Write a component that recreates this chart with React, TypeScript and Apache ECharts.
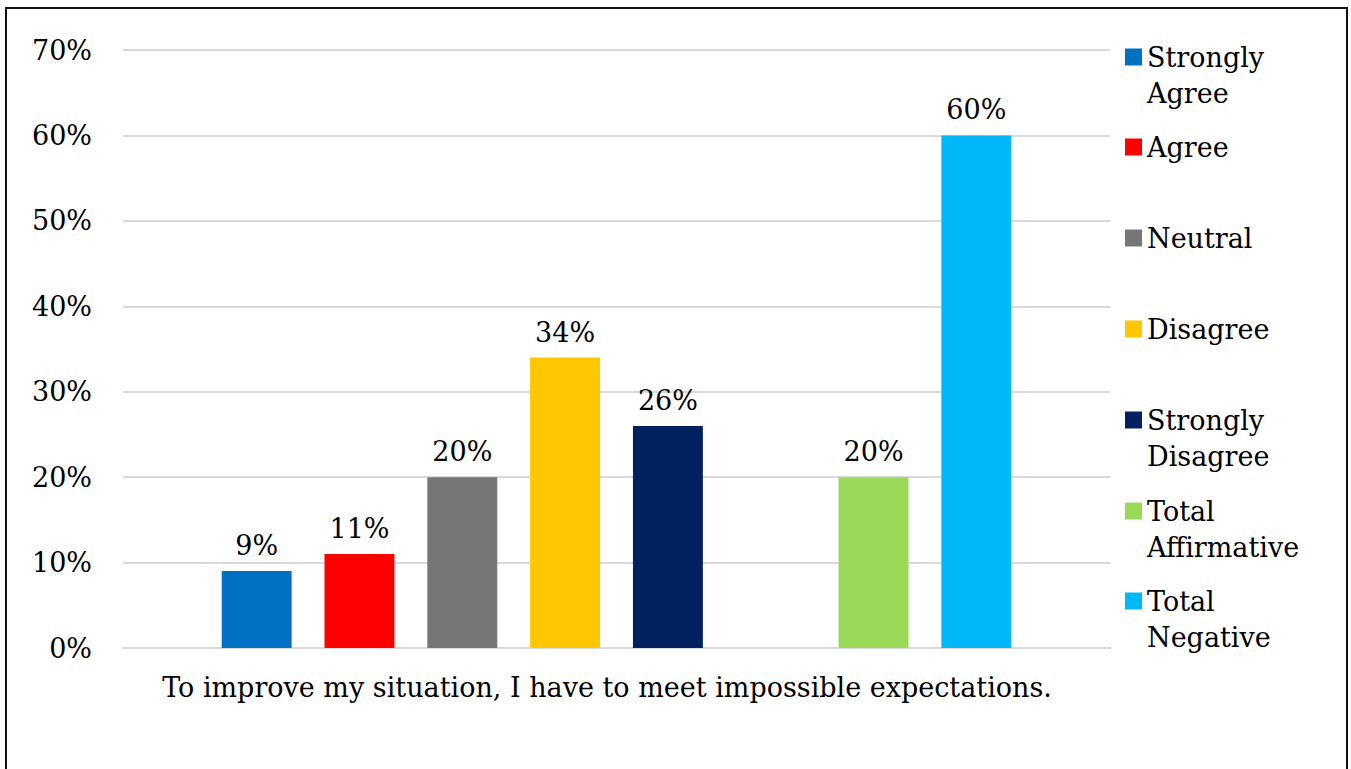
import React, { useEffect, useRef } from "react";
import * as echarts from "echarts";

const category = ["To improve my situation, I have to meet impossible expectations."];
const seriesNames = [
  "Strongly Agree",
  "Agree",
  "Neutral",
  "Disagree",
  "Strongly Disagree",
  "",
  "Total Affirmative",
  "Total Negative",
];
const legendLabels = [
  "Strongly\nAgree",
  "Agree",
  "Neutral",
  "Disagree",
  "Strongly\nDisagree",
  "",
  "Total\nAffirmative",
  "Total\nNegative",
];
const values: (number | null)[] = [9, 11, 20, 34, 26, null, 20, 60];
const colors = ["#0070C0", "#FF0000", "#767676", "#FFC700", "#002060", "#FFFFFF", "#9BDA59", "#00B8F8"];
const yTicks = [0, 10, 20, 30, 40, 50, 60, 70];

const FONT = "'DejaVu Serif', Georgia, serif";
const FS = 27;

export default function App() {
  const ref = useRef<HTMLDivElement>(null);
  useEffect(() => {
    if (!ref.current) return;
    const chart = echarts.init(ref.current, undefined, { renderer: "svg" });
    const LH = 36;
    const legendCenters = [57, 147, 238, 329, 420, 0, 511, 601];
    const legends: any[] = [];
    seriesNames.forEach((name, i) => {
      if (!name) return;
      const two = legendLabels[i].includes("\n");
      legends.push({
        show: true,
        orient: "vertical",
        left: 1125,
        top: two ? legendCenters[i] - 1.5 * LH : legendCenters[i] - LH / 2,
        itemWidth: 17,
        itemHeight: 17,
        itemGap: 0,
        padding: 0,
        icon: "rect",
        data: [name],
        selectedMode: false,
        formatter: () => (two ? " \n" + legendLabels[i] : legendLabels[i]),
        textStyle: {
          fontFamily: FONT,
          fontSize: FS,
          color: "#000",
          lineHeight: LH,
        },
      });
    });
    chart.setOption({
      animation: false,
      backgroundColor: "#fff",
      textStyle: { fontFamily: FONT },
      grid: { left: 123, right: 241, top: 50, bottom: 121, containLabel: false },
      legend: legends,
      xAxis: {
        type: "category",
        data: category,
        axisLine: { show: true, lineStyle: { color: "#d9d9d9", width: 2 } },
        axisTick: { show: false },
        axisLabel: { fontFamily: FONT, fontSize: FS, color: "#000", margin: 26, padding: [0, 19, 0, 0] },
      },
      yAxis: {
        type: "value",
        min: yTicks[0],
        max: yTicks[yTicks.length - 1],
        interval: 10,
        axisLine: { show: false },
        axisTick: { show: false },
        axisLabel: { fontFamily: FONT, fontSize: FS, color: "#000", margin: 31, formatter: "{value}%" },
        splitLine: { lineStyle: { color: "#d9d9d9", width: 2 } },
      },
      series: seriesNames.map((name, i) => ({
        name: name || "gap",
        type: "bar",
        data: [values[i]],
        barGap: "47%",
        barCategoryGap: "20%",
        itemStyle: { color: colors[i] },
        label: {
          show: values[i] !== null,
          position: "top",
          distance: 12,
          fontFamily: FONT,
          fontSize: FS,
          color: "#000",
          formatter: "{c}%",
        },
      })),
    });
    return () => chart.dispose();
  }, []);
  return (
    <div style={{ position: "absolute", left: 0, top: 0, width: 1351, height: 769, overflow: "hidden", background: "#fff" }}>
      <div ref={ref} style={{ position: "absolute", left: 0, top: 0, width: 1351, height: 769 }} />
      <div
        style={{
          position: "absolute",
          left: 5,
          top: 7,
          width: 1343,
          height: 900,
          border: "2px solid #111",
          boxSizing: "border-box",
          pointerEvents: "none",
        }}
      />
    </div>
  );
}
